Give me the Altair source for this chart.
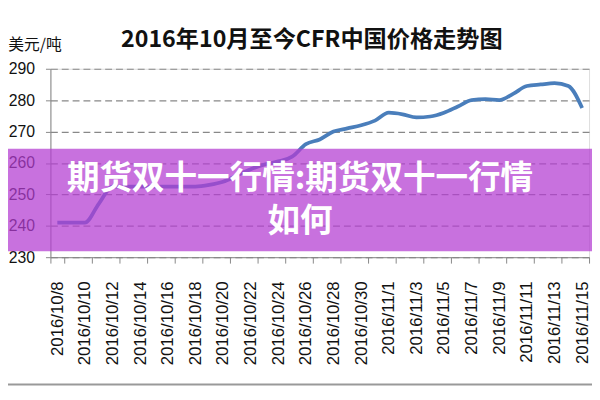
import pandas as pd
import altair as alt

# Fechas diarias (eje de categorías) y precio CFR China en USD/t
dates = [
    "2016/10/8", "2016/10/9", "2016/10/10", "2016/10/11", "2016/10/12",
    "2016/10/13", "2016/10/14", "2016/10/15", "2016/10/16", "2016/10/17",
    "2016/10/18", "2016/10/19", "2016/10/20", "2016/10/21", "2016/10/22",
    "2016/10/23", "2016/10/24", "2016/10/25", "2016/10/26", "2016/10/27",
    "2016/10/28", "2016/10/29", "2016/10/30", "2016/10/31", "2016/11/1",
    "2016/11/2", "2016/11/3", "2016/11/4", "2016/11/5", "2016/11/6",
    "2016/11/7", "2016/11/8", "2016/11/9", "2016/11/10", "2016/11/11",
    "2016/11/12", "2016/11/13", "2016/11/14", "2016/11/15",
]
prices = [
    241, 241, 241, 247, 252.5,
    252.5, 252.5, 252.5, 252.5, 252.5,
    252.5, 253, 254, 256, 258,
    259.5, 260.5, 262, 266, 267.5,
    270, 271, 272, 273.5, 276,
    275.5, 274.5, 274.8, 276, 278,
    280, 280.3, 280, 282, 284.5,
    285, 285.4, 284.5, 277.5,
]
tick_dates = dates[::2]
y_ticks = [230, 240, 250, 260, 270, 280, 290]

title_text = "2016年10月至今CFR中国价格走势图"
unit_text = "美元/吨"
banner_line1 = "期货双十一行情:期货双十一行情"
banner_line2 = "如何"

data = pd.DataFrame({"fecha": dates, "precio": prices})
uno = pd.DataFrame({"k": [0]})  # una sola fila para los adornos

W, H = 546, 191

line = alt.Chart(data).mark_line(
    color="#4a7ebb", strokeWidth=3.8, interpolate="monotone"
).encode(
    alt.X("fecha:O", sort=None, bandPosition=0.5,
          scale=alt.Scale(type="band", paddingInner=0, paddingOuter=0),
          axis=alt.Axis(values=tick_dates, title=None, labelAngle=-90,
                        tickBand="extent", tickSize=6, labelPadding=18,
                        labelFont="Liberation Sans", labelFontSize=17,
                        labelColor="#111", domainColor="#888", tickColor="#888",
                        grid=False, zindex=0)),
    alt.Y("precio:Q",
          scale=alt.Scale(domain=[230, 290], nice=False, zero=False),
          axis=alt.Axis(values=y_ticks, title=unit_text, titleAngle=0,
                        titleAlign="right", titleBaseline="middle",
                        titleX=11, titleY=-25, titleFont="Noto Sans CJK SC",
                        titleFontSize=16, titleFontWeight="normal", titleColor="#111",
                        tickSize=5, labelPadding=11,
                        labelFont="Liberation Sans", labelFontSize=16,
                        labelColor="#111", domainColor="#888", tickColor="#888",
                        grid=True, gridColor="#888", gridDash=[7, 4],
                        gridWidth=1.2, zindex=0)),
)

title = alt.Chart(uno).mark_text(
    font="Noto Sans CJK SC", fontSize=23.5, fontWeight="bold", color="#111",
    align="center", baseline="middle",
).encode(x=alt.value(265), y=alt.value(-29), text=alt.value(title_text))

# franja morada semitransparente con el texto superpuesto
banner = alt.Chart(uno).mark_rect(color="#b43cd2", opacity=0.73).encode(
    x=alt.value(-43), x2=alt.value(549),
    y=alt.value(81), y2=alt.value(185),
)

banner_text1 = alt.Chart(uno).mark_text(
    font="Noto Sans CJK SC", fontSize=33, fontWeight="bold", color="white",
    align="center", baseline="middle",
).encode(x=alt.value(253), y=alt.value(112), text=alt.value(banner_line1))

banner_text2 = alt.Chart(uno).mark_text(
    font="Noto Sans CJK SC", fontSize=33, fontWeight="bold", color="white",
    align="center", baseline="middle",
).encode(x=alt.value(253), y=alt.value(155), text=alt.value(banner_line2))

bottom_border = alt.Chart(uno).mark_rule(color="#999", strokeWidth=2).encode(
    x=alt.value(-43), x2=alt.value(549), y=alt.value(320),
)

chart = (line + title + banner + banner_text1 + banner_text2 + bottom_border).properties(
    width=W, height=H,
    autosize=alt.AutoSizeParams(type="none"),
    padding={"left": 43, "top": 59, "right": 3, "bottom": 130},
).configure_view(stroke=None).configure(background="white")

chart.save("out.html", embed_options={"renderer": "svg", "actions": False})
